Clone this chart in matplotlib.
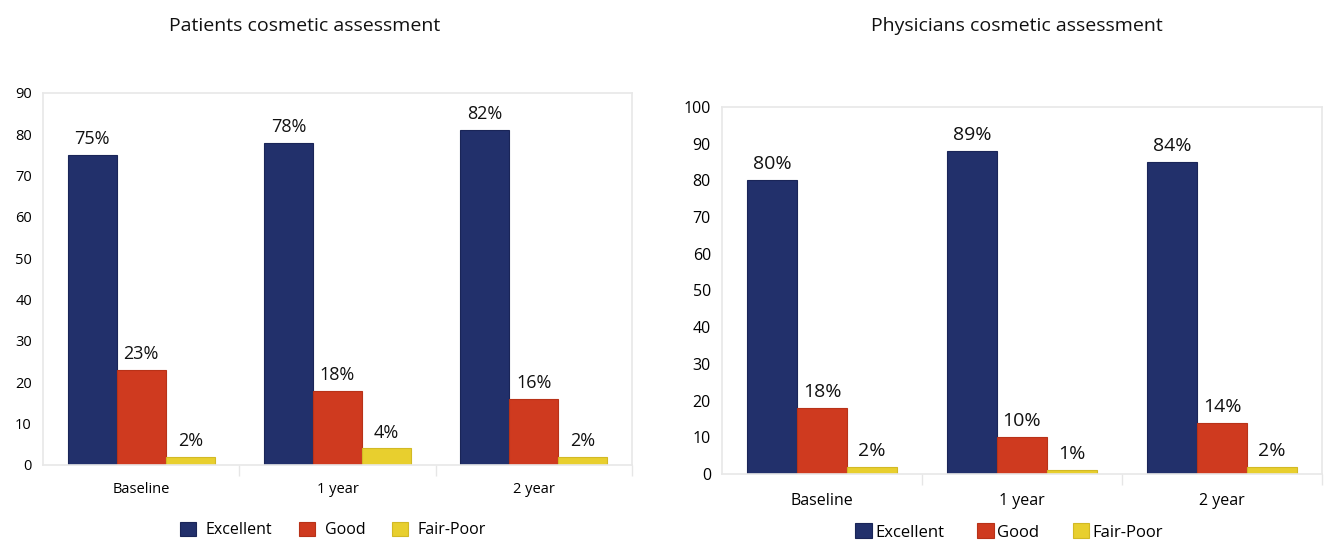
import matplotlib.pyplot as plt
import numpy as np

plt.rcParams['font.family'] = ['Open Sans', 'DejaVu Sans']

# Data
categories = ["Baseline", "1 year", "2 year"]
series_names = ["Excellent", "Good", "Fair-Poor"]
colors = ["#22306b", "#cf3a1f", "#e8cf2e"]
edge_colors = ["#1a2558", "#b83218", "#d2b925"]

patients_heights = {
    "Excellent": [75, 78, 81],
    "Good": [23, 18, 16],
    "Fair-Poor": [2, 4, 2],
}
patients_labels = {
    "Excellent": ["75%", "78%", "82%"],
    "Good": ["23%", "18%", "16%"],
    "Fair-Poor": ["2%", "4%", "2%"],
}
physicians_heights = {
    "Excellent": [80, 88, 85],
    "Good": [18, 10, 14],
    "Fair-Poor": [2, 1, 2],
}
physicians_labels = {
    "Excellent": ["80%", "89%", "84%"],
    "Good": ["18%", "10%", "14%"],
    "Fair-Poor": ["2%", "1%", "2%"],
}

fig = plt.figure(figsize=(13.24, 5.4), dpi=100)
W, H = 1324, 540


def px_axes(left, top, right, bottom):
    return fig.add_axes([left / W, 1 - bottom / H, (right - left) / W, (bottom - top) / H])


def draw_panel(ax, heights, labels, ymax, title, title_xy, legend_xy,
               tick_fs, label_fs, legend_fs, xpad, text_pad, col_space):
    x = np.arange(len(categories))
    width = 0.25
    handles = []
    for i, name in enumerate(series_names):
        pos = x + (i - 1) * width
        bars = ax.bar(pos, heights[name], width, color=colors[i],
                      edgecolor=edge_colors[i], linewidth=0.8, label=name)
        handles.append(bars)
        for p, h, lab in zip(pos, heights[name], labels[name]):
            ax.annotate(lab, (p, h), xytext=(0, 5), textcoords="offset points",
                        ha="center", va="bottom", fontsize=label_fs, color="#111111")
    ax.set_xlim(-0.5, len(categories) - 0.5)
    ax.set_ylim(0, ymax)
    ax.set_yticks(np.arange(0, ymax + 1, 10))
    ax.set_xticks(x)
    ax.set_xticklabels(categories)
    ax.set_xticks([0.5, 1.5, 2.5], minor=True)
    ax.tick_params(axis="x", which="major", length=0, pad=xpad, labelsize=tick_fs)
    ax.tick_params(axis="x", which="minor", length=8, color="#e6e6e6", width=1)
    ax.tick_params(axis="y", length=0, pad=8, labelsize=tick_fs)
    for s in ax.spines.values():
        s.set_color("#e8e8e8")
        s.set_linewidth(1.2)
    fig.text(title_xy[0] / W, 1 - title_xy[1] / H, title, ha="center", va="center",
             fontsize=14, color="#111111")
    fig.legend(handles, series_names, loc="center",
               bbox_to_anchor=(legend_xy[0] / W, 1 - legend_xy[1] / H),
               ncol=3, frameon=False, fontsize=legend_fs, handlelength=1.0,
               handleheight=1.0, handletextpad=text_pad, columnspacing=col_space)


ax1 = px_axes(43, 93, 632, 465)
draw_panel(ax1, patients_heights, patients_labels, 90,
           "Patients cosmetic assessment", (305, 26), (333, 530),
           tick_fs=10.5, label_fs=13, legend_fs=11.5, xpad=12,
           text_pad=0.6, col_space=1.7)

ax2 = px_axes(722, 107, 1322, 474)
draw_panel(ax2, physicians_heights, physicians_labels, 100,
           "Physicians cosmetic assessment", (1017, 26), (1009, 532),
           tick_fs=11.5, label_fs=14, legend_fs=12, xpad=14,
           text_pad=0.2, col_space=2.0)

fig.savefig("out.png", dpi=100)
